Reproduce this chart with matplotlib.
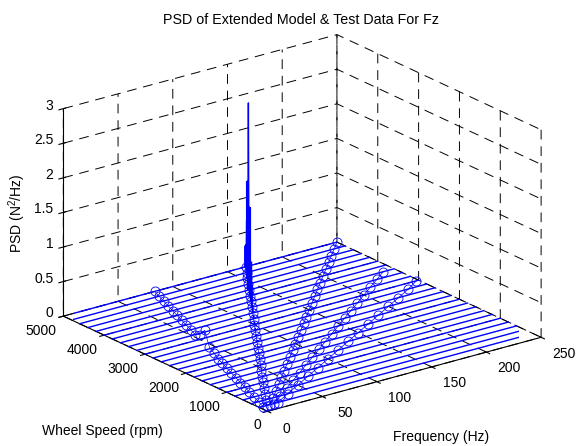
import matplotlib
matplotlib.use('Agg')
import matplotlib.pyplot as plt
from mpl_toolkits.mplot3d import Axes3D

plt.rcParams['font.family'] = ['Liberation Sans', 'DejaVu Sans']
plt.rcParams['mathtext.default'] = 'regular'
plt.rcParams['grid.linestyle'] = (0, (10, 7))
plt.rcParams['grid.linewidth'] = 0.7
plt.rcParams['grid.color'] = 'black'

# wheel speed of every sweep line (rpm)
rpm = [200, 400, 600, 800, 1000, 1200, 1400, 1600, 1800, 2000, 2200, 2400, 2600,
       2800, 3000, 3200, 3400, 3600, 3800, 4000, 4200, 4400, 4600, 4800, 5000]

# spike on each sweep line, close to the 2nd order
spike_freq = [6.7, 13.3, 20, 26.7, 33.3, 40, 46.7, 53.3, 60, 66.7, 73.3, 80, 86.7,
              93.3, 100, 106.7, 113.3, 120, 126.7, 133.3, 140, 146.7, 153.3, 160, 166.7]
spike_psd = [0, 0, 0, 0, 0, 0, 0, 0, 0.01, 0.01, 0.01, 0.02, 0.02,
             0.03, 0.04, 0.05, 0.08, 0.12, 0.25, 0.5, 1.2, 2.62, 1.41, 0.75, 0.32]

# test data points (Hz) for each order
order1_freq = [3.3, 6.7, 10, 13.3, 16.7, 20, 23.3, 26.7, 30, 33.3, 36.7, 41, 44,
               47, 50, 53.3, 56.7, 60, 63.3, 66.7, 70, 73.3, 76.7, 80, 83.3]
order1_psd = [0, 0, 0, 0, 0, 0, 0, 0, 0, 0, 0, 0, 0.02,
              0.2, 0.07, 0, 0, 0, 0, 0, 0, 0, 0, 0, 0]
order2_freq = spike_freq
order3_freq = [10, 20, 30, 40, 50, 60, 70, 80, 90, 100, 110, 120, 130,
               140, 150, 160, 170, 180, 190, 200, 210, 220, 230, 240, 250]
order4_rpm = rpm[:18]
order4_freq = [13.3, 26.7, 40, 53.3, 66.7, 80, 93.3, 106.7, 120, 133.3, 146.7, 160,
               173.3, 186.7, 200, 213.3, 226.7, 240]
order5_rpm = rpm[:15]
order5_freq = [16.7, 33.3, 50, 66.7, 83.3, 100, 116.7, 133.3, 150, 166.7, 183.3, 200,
               216.7, 233.3, 248]

freq_ticks = [0, 50, 100, 150, 200, 250]
rpm_ticks = [0, 1000, 2000, 3000, 4000, 5000]
psd_ticks = [0, 0.5, 1, 1.5, 2, 2.5, 3]
psd_labels = ['0', '0.5', '1', '1.5', '2', '2.5', '3']

blue = '#0000ff'

fig = plt.figure(figsize=(5.77, 4.46), dpi=100)
ax = fig.add_axes([7.7 / 577, -6 / 446, 1, 1], projection='3d', proj_type='ortho')
ax.view_init(elev=20.8, azim=-127.3)
ax.set_box_aspect((344, 337, 222), zoom=1.154)
ax.patch.set_alpha(0)

# sweep lines
for r, f, p in zip(rpm, spike_freq, spike_psd):
    ax.plot([0, f - 0.6, f, f + 0.6, 250], [r] * 5, [0, 0, p, 0, 0], color=blue, lw=1.0)

# the spike gets fat towards the floor, the plotted peaks sit so close together
for i, lw in [(18, 2), (19, 2.5), (20, 3), (21, 0.7), (22, 1.5), (23, 2), (24, 3.5)]:
    ax.plot([spike_freq[i]] * 2, [rpm[i]] * 2, [0, spike_psd[i]], color=blue, lw=lw, solid_capstyle='butt')

# test data
ms = 6.5
for fr, rr, pp in [(order1_freq, rpm, order1_psd),
                   (order2_freq, rpm, [0] * 25),
                   (order3_freq, rpm, [0] * 25),
                   (order4_freq, order4_rpm, [0] * 18),
                   (order5_freq, order5_rpm, [0] * 15)]:
    ax.plot(fr, rr, pp, color=blue, lw=0.5, marker='o', mfc='none', mew=0.6, ms=ms)

ax.set_xlim(0, 250)
ax.set_ylim(0, 5000)
ax.set_zlim(0, 3)
ax.set_xticks(freq_ticks)
ax.set_yticks(rpm_ticks)
ax.set_zticks(psd_ticks)
ax.set_xticklabels([])
ax.set_yticklabels([])
ax.set_zticklabels([])

for axis in (ax.xaxis, ax.yaxis, ax.zaxis):
    axis.set_pane_color((1, 1, 1, 0))
    axis.pane.set_edgecolor('none')
    axis.line.set_linewidth(0.8)

# tick labels written by hand, mplot3d resets any shift put on its own labels
for f in freq_ticks:
    ax.text(f - (11 if f == 0 else 7), -746, 0, str(f), ha='center', va='center', fontsize=10)
for r in rpm_ticks:
    if r == 0:
        ax.text(-23, -361, 0, '0', ha='center', va='center', fontsize=10)
    else:
        ax.text(-31, r - 286, 0, str(r), ha='center', va='center', fontsize=10)
for z, lab in zip(psd_ticks, psd_labels):
    ax.text(-2, 5190, z, lab, ha='right', va='center', fontsize=10)

fig.text(0.522, 0.955, 'PSD of Extended Model & Test Data For Fz', ha='center', va='center', fontsize=10.3)
fig.text(0.03, 0.522, 'PSD (N$^2$/Hz)', rotation=90, ha='center', va='center', fontsize=10)
fig.text(0.177, 0.034, 'Wheel Speed (rpm)', ha='center', va='center', fontsize=10)
fig.text(0.765, 0.02, 'Frequency (Hz)', ha='center', va='center', fontsize=10)

fig.savefig('out.png', dpi=100)
